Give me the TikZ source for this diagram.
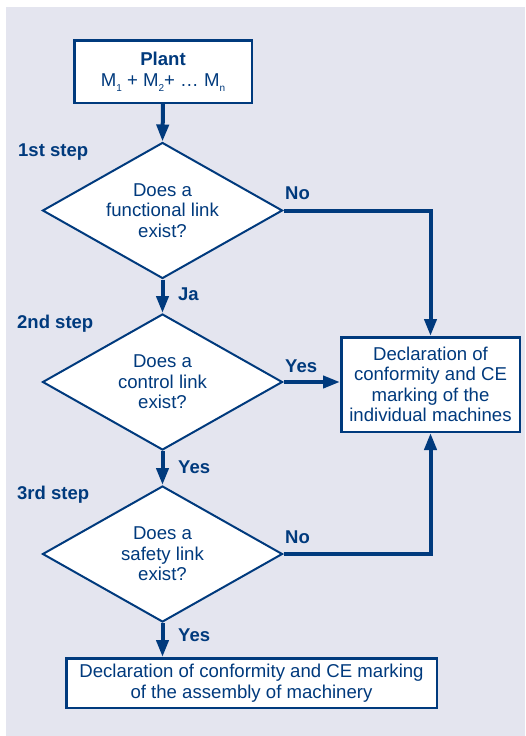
\documentclass[tikz,border=0pt]{standalone}
\usepackage{fontspec}
\setmainfont{Liberation Sans}
\usetikzlibrary{shapes.geometric,arrows.meta}
\definecolor{navy}{RGB}{0,58,125}
\definecolor{panel}{RGB}{228,229,239}
\newcommand{\bodysize}{\fontsize{18.6}{20.4}\selectfont}
\newcommand{\tagsize}{\fontsize{18.5}{20}\selectfont\bfseries}
\newcommand{\lowidx}[1]{\raisebox{-4.5pt}{\fontsize{10}{10}\selectfont #1}}
\begin{document}
\begin{tikzpicture}[x=1pt,y=-1pt,
  box/.style={draw=navy, line width=2.5pt, fill=white, text=navy,
    align=center, font=\bodysize, inner sep=0pt},
  decision/.style={diamond, draw=navy, line width=2pt, fill=white, text=navy,
    align=center, font=\bodysize, inner sep=0pt, aspect=1.76,
    minimum width=240pt, minimum height=136pt},
  flow/.style={draw=navy, line width=4pt, -{Triangle[length=17pt,width=12pt]}},
  tag/.style={text=navy, font=\tagsize, inner sep=0pt, anchor=base west}]

% canvas and panel
\useasboundingbox (0,0) rectangle (525,736);
\fill[panel] (6,7) rectangle (525,736);

% boxes and decisions
\node[box, minimum width=177.5pt, minimum height=62.5pt] (plant) at (163,71.5)
  {{\bfseries Plant}\\[1.5pt] M\lowidx{1} + M\lowidx{2}+ … M\lowidx{n}};
\node[decision] (d1) at (162.5,210.5) {Does a\\functional link\\exist?};
\node[decision] (d2) at (162.5,382) {Does a\\control link\\exist?};
\node[decision] (d3) at (162.5,554) {Does a\\safety link\\exist?};
\node[box, minimum width=178.5pt, minimum height=94.5pt] (ind) at (430.5,384.5)
  {Declaration of\\conformity and CE\\marking of the\\individual machines};
\node[box, minimum width=370.5pt, minimum height=49.5pt] (asm) at (251.5,683)
  {Declaration of conformity and CE marking\\of the assembly of machinery};

% connectors
\draw[flow] (plant.south) -- (d1.north);
\draw[flow] (d1.south) -- (d2.north);
\draw[flow] (d2.south) -- (d3.north);
\draw[flow] (d3.south) -- (d3.south |- asm.north);
\draw[flow] (d1.east) -| (ind.north);
\draw[flow] (d2.east) -- (d2.east -| ind.west);
\draw[flow] (d3.east) -| (ind.south);

% step and branch labels
\node[tag] (s1) at (18,156.5) {1st step};
\node[tag] (s2) at (17,328) {2nd step};
\node[tag] (s3) at (17,499) {3rd step};
\node[tag] (no1) at (285,199) {No};
\node[tag] (ja) at (178,300) {Ja};
\node[tag] (yes1) at (285,372) {Yes};
\node[tag] (yes2) at (178,473) {Yes};
\node[tag] (no2) at (285,543) {No};
\node[tag] (yes3) at (178,641.5) {Yes};
\end{tikzpicture}
\end{document}
